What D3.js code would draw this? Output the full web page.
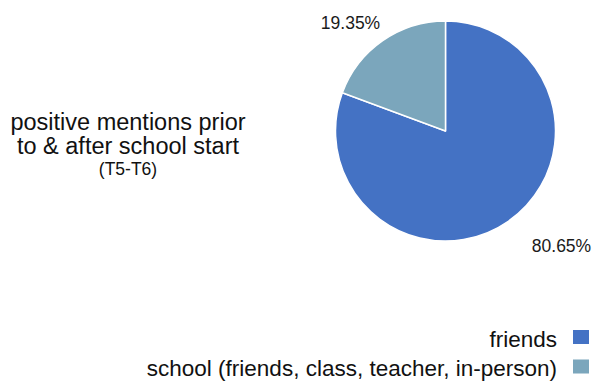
<!DOCTYPE html>
<html>
<head>
<meta charset="utf-8">
<script src="https://cdn.jsdelivr.net/npm/d3@7"></script>
<style>
  html, body { margin: 0; padding: 0; background: #fff; }
  svg { display: block; font-family: "Liberation Sans", Arial, Helvetica, sans-serif; }
</style>
</head>
<body>
<svg id="chart" width="594" height="381"></svg>
<script>
// Share of positive mentions by category
const categories = ["friends", "school (friends, class, teacher, in-person)"];
const values = [80.65, 19.35];
const colors = ["#4472c4", "#7ba6bc"];
const titleLines = ["positive mentions prior", "to & after school start"];
const subtitle = "(T5-T6)";

const svg = d3.select("#chart");
const cx = 445.5, cy = 131, radius = 110;

const color = d3.scaleOrdinal().domain(categories).range(colors);

const pie = d3.pie().sort(null).value(d => d.value);
const arcs = pie(categories.map((c, i) => ({ name: c, value: values[i] })));
const arc = d3.arc().innerRadius(0).outerRadius(radius);

const g = svg.append("g").attr("transform", `translate(${cx},${cy})`);
g.selectAll("path")
  .data(arcs)
  .join("path")
  .attr("d", arc)
  .attr("fill", d => color(d.data.name))
  .attr("stroke", "#fff")
  .attr("stroke-width", 1.5)
  .attr("stroke-linejoin", "round");

// Percentage labels placed just outside each slice
const labelPos = [[116, 120.5], [-95, -102]];
g.selectAll("text.pct")
  .data(arcs)
  .join("text")
  .attr("class", "pct")
  .attr("x", (d, i) => labelPos[i][0])
  .attr("y", (d, i) => labelPos[i][1])
  .attr("text-anchor", "middle")
  .attr("font-size", 17.5)
  .attr("fill", "#1a1a1a")
  .text(d => d3.format(".2f")(d.data.value) + "%");

// Title block on the left
const title = svg.append("g").attr("text-anchor", "middle").attr("fill", "#111");
title.selectAll("text.t")
  .data(titleLines)
  .join("text")
  .attr("class", "t")
  .attr("x", 128)
  .attr("y", (d, i) => 130 + i * 24)
  .attr("font-size", 23.5)
  .text(d => d);
title.append("text")
  .attr("x", 128)
  .attr("y", 175)
  .attr("font-size", 17.5)
  .text(subtitle);

// Legend, bottom right
const legend = svg.append("g");
const rows = legend.selectAll("g")
  .data(categories)
  .join("g")
  .attr("transform", (d, i) => `translate(0,${346.5 + i * 29.5})`);
rows.append("rect")
  .attr("x", 573)
  .attr("y", -16.5)
  .attr("width", 16)
  .attr("height", 14)
  .attr("fill", d => color(d));
rows.append("text")
  .attr("x", 557)
  .attr("y", 0)
  .attr("text-anchor", "end")
  .attr("font-size", 22.5)
  .attr("fill", "#111")
  .text(d => d);
</script>
</body>
</html>
